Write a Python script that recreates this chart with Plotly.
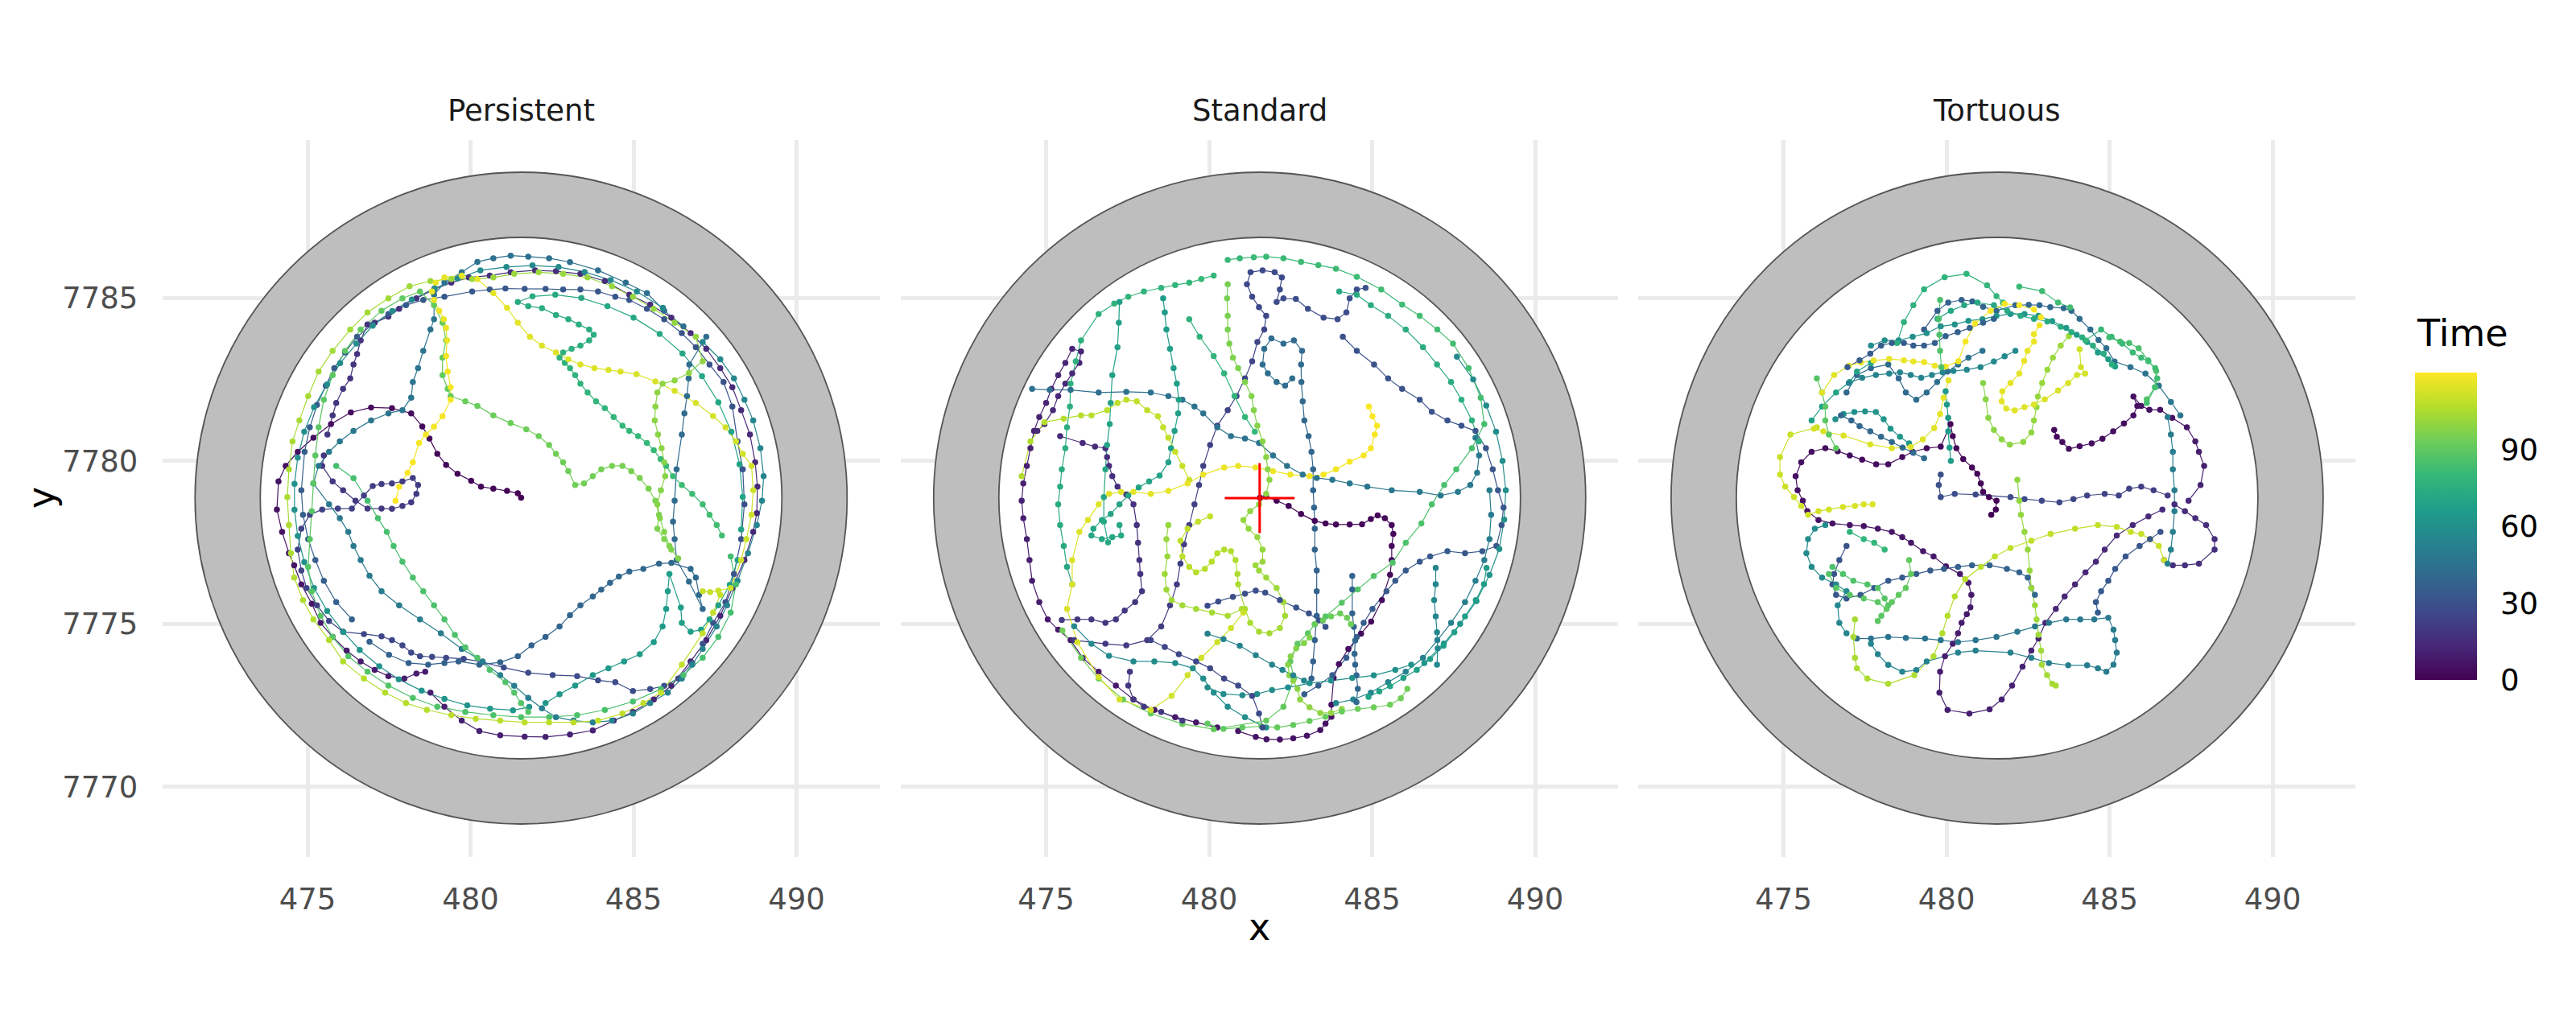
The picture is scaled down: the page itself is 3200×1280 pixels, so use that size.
import plotly.graph_objects as go
from plotly.colors import sample_colorscale

# ---------------- arena / axes values ----------------
ARENA_CENTER = [481.55, 7778.86]
ARENA_OUTER_R = 10.0
ARENA_INNER_R = 8.0
X_RANGE = [470.55, 492.55]
Y_RANGE = [7767.86, 7789.86]
X_TICKS = [475, 480, 485, 490]
Y_TICKS = [7770, 7775, 7780, 7785]
FACETS = ["Persistent", "Standard", "Tortuous"]
T_MAX = 120.3
CB_TICKS = [0, 30, 60, 90]

# ---------------- Persistent track pieces: [x, y, time] ----------------
P_1 = [[481.55,7778.87,0.0],[481.45,7779.01,0.3],[481.12,7779.08,0.6],[480.70,7779.15,0.9],[480.32,7779.21,1.2],[480.02,7779.39,1.5],[479.60,7779.61,1.8],[479.25,7779.88,2.1],[478.98,7780.22,2.4],[478.74,7780.69,2.7],[478.52,7781.06,3.0],[478.18,7781.46,3.3],[477.59,7781.62,3.6],[476.95,7781.64,3.9],[476.33,7781.49,4.2],[475.72,7781.13,4.5],[475.18,7780.71,4.8],[474.70,7780.28,5.1],[474.33,7779.85,5.4],[474.11,7779.37,5.7],[474.06,7778.51,6.0],[474.22,7777.82,6.3],[474.43,7777.17,6.6],[474.59,7776.80,6.9],[474.81,7776.21,7.2],[475.13,7775.62,7.5],[475.40,7775.03,7.8],[475.77,7774.60,8.1],[476.20,7774.18,8.4],[476.63,7773.85,8.7],[477.06,7773.59,9.0],[477.48,7773.40,9.3],[477.97,7773.32,9.6],[478.34,7773.48,9.9],[478.61,7773.53,10.1]]
P_2 = [[478.77,7772.89,10.3],[479.20,7772.46,10.5],[479.73,7772.03,10.7],[480.27,7771.71,10.8],[480.91,7771.58,11.0],[481.66,7771.54,11.2],[482.30,7771.53,11.3],[483.05,7771.61,11.5],[483.75,7771.73,11.7],[484.39,7772.03,11.8],[484.98,7772.30,12.0],[485.62,7772.68,12.2],[486.16,7773.10,12.3],[486.75,7773.85,12.5],[487.23,7774.50,12.7],[487.66,7775.25,12.8],[488.03,7776.10,13.0],[488.40,7776.96,13.2],[488.67,7777.82,13.3],[488.78,7778.40,13.5],[488.80,7779.21,13.7],[488.73,7779.96,13.8],[488.57,7780.81,14.0],[488.30,7781.56,14.2],[488.03,7782.26,14.3],[487.66,7782.85,14.5],[487.23,7783.44,14.7],[486.75,7783.92,14.8],[486.16,7784.40,15.0],[485.51,7784.80,15.2],[484.87,7785.10,15.3],[484.12,7785.52,15.5],[483.37,7785.74,15.7],[482.62,7785.82,15.8],[481.98,7785.85,16.0],[481.23,7785.79,16.2],[480.59,7785.69,16.3],[479.95,7785.63,16.5],[479.41,7785.47,16.7],[478.88,7785.26,16.8],[478.34,7784.99,17.0],[477.81,7784.67,17.2],[477.48,7784.43,17.3],[477.06,7784.24,17.5],[476.84,7784.19,17.7],[476.63,7783.70,17.8],[476.52,7783.28,18.0],[476.41,7782.96,18.2],[476.31,7782.53,18.3],[476.09,7782.21,18.5],[475.88,7781.78,18.7],[475.77,7781.40,18.8],[475.61,7780.81,19.0]]
P_3 = [[475.50,7780.17,19.2],[475.45,7779.85,19.4],[475.77,7779.37,19.6],[476.09,7779.10,19.9],[476.47,7778.78,20.1],[476.84,7778.54,20.3],[477.27,7778.54,20.5],[477.59,7778.53,20.7],[477.91,7778.62,20.9],[478.18,7778.73,21.1],[478.34,7778.99,21.3],[478.39,7779.26,21.5],[478.23,7779.48,21.8],[477.91,7779.37,22.0],[477.59,7779.31,22.2],[477.27,7779.29,22.4],[477.00,7779.23,22.6],[476.73,7778.94,22.8],[476.36,7778.54,23.0],[475.93,7778.54,23.2],[475.45,7778.51,23.4],[475.07,7778.35,23.7],[474.81,7777.92,23.9],[474.70,7777.28,24.1],[474.81,7776.64,24.3],[474.97,7776.10,24.5],[475.29,7775.57,24.7],[475.66,7775.09,24.9],[476.09,7774.76,25.1],[476.73,7774.69,25.3],[477.27,7774.62,25.6],[477.59,7774.50,25.8],[477.91,7774.34,26.0],[478.18,7774.12,26.2],[478.45,7774.01,26.4],[478.82,7773.99,26.6],[479.25,7773.96,26.8],[479.79,7773.93,27.0],[480.37,7773.83,27.2],[481.02,7773.66,27.5],[481.77,7773.50,27.7],[482.52,7773.43,27.9],[483.27,7773.40,28.1],[483.91,7773.27,28.3],[484.44,7773.21,28.5],[484.98,7772.94,28.7],[485.51,7773.00,28.9],[485.94,7773.10,29.1],[486.37,7773.32,29.4],[486.80,7773.80,29.6]]
P_4 = [[487.12,7774.39,29.8],[487.44,7775.03,30.0],[487.82,7775.67,30.1],[488.08,7776.53,30.3],[488.30,7777.60,30.4],[488.40,7778.67,30.6],[488.35,7779.74,30.8],[488.19,7780.60,30.9],[488.03,7781.67,31.1],[487.76,7782.42,31.2],[487.33,7782.96,31.4],[486.91,7783.49,31.6],[486.48,7783.92,31.7],[485.94,7784.35,31.9],[485.41,7784.67,32.0],[484.87,7784.94,32.2],[484.44,7785.04,32.4],[483.91,7785.20,32.5],[483.37,7785.26,32.7],[482.84,7785.26,32.8],[482.30,7785.28,33.0],[481.66,7785.28,33.2],[481.07,7785.29,33.3],[480.59,7785.26,33.5],[480.05,7785.20,33.6],[479.20,7785.04,33.8],[478.55,7784.94,34.0],[478.02,7784.78,34.1],[477.48,7784.51,34.3],[477.00,7784.19,34.4],[476.52,7783.81,34.6],[476.15,7783.33,34.8],[475.82,7782.85,34.9],[475.56,7782.31,35.1],[475.29,7781.72,35.2],[475.07,7781.03,35.4],[474.91,7780.28,35.6],[474.81,7779.10,35.7],[474.86,7778.35,35.9],[475.02,7777.60,36.0],[475.24,7776.96,36.2],[475.50,7776.32,36.4],[475.88,7775.67,36.5],[476.36,7775.14,36.7]]
P_5 = [[476.90,7774.45,36.9],[477.50,7774.05,37.0],[478.10,7773.80,37.2],[478.70,7773.75,37.3],[479.20,7773.80,37.5],[479.63,7773.85,37.6],[480.27,7773.75,37.8],[480.91,7773.82,38.0],[481.45,7774.01,38.1],[481.87,7774.34,38.3],[482.30,7774.60,38.4],[482.73,7774.92,38.6],[483.05,7775.27,38.8],[483.37,7775.57,38.9],[483.75,7775.84,39.1],[484.01,7776.05,39.2],[484.28,7776.26,39.4],[484.55,7776.45,39.6],[484.87,7776.61,39.7],[485.30,7776.69,39.9],[485.78,7776.85,40.0],[486.16,7776.87,40.2],[486.75,7776.69,40.4],[486.91,7776.42,40.5],[487.01,7775.89,40.7],[487.12,7775.46,40.8],[486.70,7776.30,41.0],[486.32,7776.96,41.2],[486.26,7777.60,41.3],[486.21,7778.14,41.5],[486.26,7778.78,41.6],[486.32,7779.74,41.8],[486.48,7780.81,42.0],[486.56,7781.46,42.1],[486.64,7781.99,42.3],[486.69,7782.53,42.4],[486.71,7782.96,42.6],[487.23,7783.81,42.8]]
P_6 = [[486.53,7784.13,43.0],[485.94,7784.61,43.2],[485.41,7785.15,43.4],[484.76,7785.47,43.6],[483.91,7785.85,43.8],[483.05,7786.10,44.0],[482.41,7786.22,44.2],[481.77,7786.27,44.4],[481.23,7786.30,44.6],[480.70,7786.22,44.8],[480.21,7786.11,45.0],[479.73,7785.79,45.2],[479.20,7785.47,45.4],[478.88,7785.10,45.6],[478.88,7784.35,45.8],[478.77,7784.03,46.0],[478.55,7783.38,46.2],[478.39,7782.85,46.4],[478.23,7782.42,46.6],[478.18,7781.94,46.8],[477.91,7781.56,47.0],[477.48,7781.46,47.2],[476.95,7781.24,47.4],[476.41,7780.92,47.6],[475.99,7780.60,47.8],[475.66,7780.28,48.0],[475.34,7779.85,48.2],[475.18,7779.31,48.4],[475.66,7778.67,48.6],[475.99,7778.24,48.8],[476.25,7777.82,49.0],[476.41,7777.39,49.2],[476.63,7776.96,49.4],[476.90,7776.48,49.6],[477.27,7776.00,49.8],[477.81,7775.57,50.0],[478.45,7775.14,50.2],[479.09,7774.71,50.4],[479.73,7774.23,50.6],[480.37,7773.85,50.8],[480.91,7773.43,51.0],[481.34,7773.10,51.2],[481.77,7772.73,51.4],[482.19,7772.41,51.6],[482.62,7772.14,51.8],[483.16,7772.03,52.0],[483.75,7771.98,52.2],[484.34,7772.03,52.4],[484.98,7772.25,52.6],[485.51,7772.57,52.8],[486.05,7772.89,53.0],[486.48,7773.32,53.2],[486.80,7773.75,53.4],[487.12,7774.23,53.6],[487.55,7774.92,53.8],[487.87,7775.57,54.0],[488.19,7776.32,54.2],[488.51,7777.17,54.4],[488.78,7778.03,54.6],[488.94,7778.78,54.8],[488.99,7779.53,55.0],[488.89,7780.39,55.2],[488.67,7781.24,55.4],[488.40,7781.88,55.6],[488.08,7782.53,55.8],[487.66,7783.12,56.0],[487.12,7783.65,56.2]]
P_7 = [[485.90,7784.70,56.4],[485.10,7785.20,56.6],[484.30,7785.55,56.8],[483.50,7785.80,57.0],[482.70,7785.95,57.2],[481.90,7786.00,57.4],[481.10,7785.95,57.6],[480.30,7785.85,57.8],[479.60,7785.60,58.0],[478.90,7785.30,58.2],[478.20,7784.95,58.4],[477.60,7784.60,58.6],[477.00,7784.15,58.8],[476.50,7783.60,59.0],[476.00,7783.00,59.2],[475.60,7782.35,59.4],[475.20,7781.65,59.6],[474.90,7780.90,59.8],[474.70,7780.10,60.0],[474.60,7779.30,60.2],[474.60,7778.50,60.4],[474.70,7777.70,60.6],[474.90,7776.90,60.8],[475.20,7776.10,61.0],[475.60,7775.40,61.2],[476.10,7774.75,61.4],[476.60,7774.20,61.6],[477.20,7773.70,61.8],[477.80,7773.30,62.0],[478.50,7772.95,62.2],[479.20,7772.70,62.4],[479.90,7772.50,62.6],[480.60,7772.40,62.8],[481.30,7772.35,63.0],[481.80,7772.45,63.2]]
P_8 = [[482.30,7772.57,63.4],[482.73,7772.84,63.7],[483.21,7773.11,64.0],[483.75,7773.43,64.3],[484.23,7773.64,64.6],[484.71,7773.85,64.9],[485.19,7774.07,65.2],[485.62,7774.44,65.5],[485.89,7774.92,65.8],[486.00,7775.46,66.1],[486.05,7776.00,66.4],[486.10,7776.53,66.7],[486.45,7775.50,67.0],[486.48,7775.03,67.3],[486.75,7774.76,67.6],[487.07,7774.82,67.9],[487.33,7775.14,68.2],[487.60,7775.57,68.5],[487.95,7776.20,68.8],[488.19,7776.96,69.1]]
P_9 = [[488.30,7777.90,69.4],[488.35,7778.90,69.7],[488.25,7779.90,70.0],[488.00,7780.90,70.3],[487.60,7781.80,70.6],[487.10,7782.60,70.9],[486.50,7783.30,71.2],[485.80,7783.90,71.5],[485.00,7784.40,71.8],[484.20,7784.75,72.1],[483.40,7785.00,72.4],[482.60,7785.10,72.7],[481.90,7785.05,73.0],[481.45,7784.88,73.3],[481.77,7784.75,73.6],[482.19,7784.69,73.9],[482.62,7784.48,74.2],[483.00,7784.35,74.5],[483.32,7784.19,74.8],[483.64,7784.03,75.1],[483.78,7783.87,75.4],[483.64,7783.70,75.7],[483.37,7783.54,76.0],[483.10,7783.44,76.3],[482.84,7783.33,76.6],[482.73,7783.17,76.9],[482.89,7783.01,77.2],[483.05,7782.85,77.5],[483.21,7782.63,77.8],[483.37,7782.37,78.1],[483.59,7782.10,78.4],[483.85,7781.83,78.7],[484.12,7781.62,79.0],[484.39,7781.35,79.3],[484.66,7781.08,79.6],[484.87,7780.92,79.9],[485.14,7780.76,80.2],[485.41,7780.55,80.5],[485.62,7780.33,80.8],[485.83,7780.06,81.1],[486.00,7779.85,81.4],[486.21,7779.53,81.7],[486.48,7779.26,82.0],[486.80,7778.99,82.3],[487.12,7778.67,82.6],[487.33,7778.35,82.9],[487.55,7778.03,83.2],[487.71,7777.71,83.5]]
P_10 = [[487.98,7777.07,83.8],[488.14,7776.21,84.0],[487.98,7775.35,84.2],[487.60,7774.60,84.4],[487.12,7773.96,84.6],[486.53,7773.43,84.8],[485.84,7773.00,85.0],[484.98,7772.62,85.2],[484.12,7772.36,85.4],[483.27,7772.20,85.6],[482.41,7772.14,85.8],[481.55,7772.14,86.0],[480.70,7772.20,86.2],[479.84,7772.30,86.4],[478.98,7772.46,86.6],[478.23,7772.73,86.8],[477.48,7773.11,87.0],[476.84,7773.53,87.2],[476.25,7774.01,87.4],[475.77,7774.60,87.6],[475.40,7775.25,87.8],[475.13,7776.00,88.0],[475.02,7776.75,88.2],[475.07,7777.60,88.4],[475.13,7778.46,88.6],[475.18,7779.31,88.8],[475.24,7780.17,89.0],[475.34,7781.03,89.2],[475.50,7781.88,89.4],[475.77,7782.63,89.6],[476.15,7783.38,89.8],[476.63,7784.03,90.0],[477.27,7784.61,90.2],[477.91,7784.99,90.4],[478.45,7785.20,90.6],[478.88,7784.78,90.8],[479.14,7784.24,91.0],[479.25,7783.70,91.2],[479.14,7783.17,91.4],[479.14,7782.63,91.6],[479.30,7782.21,91.8],[479.39,7781.99,92.0],[479.84,7781.83,92.2],[480.21,7781.69,92.4],[480.70,7781.40,92.6],[481.23,7781.16,92.8],[481.71,7780.97,93.0],[482.09,7780.76,93.2],[482.41,7780.49,93.4],[482.62,7780.22,93.6],[482.84,7779.96,93.8],[483.00,7779.69,94.0],[483.21,7779.26,94.2],[483.48,7779.31,94.4],[483.75,7779.53,94.6],[484.01,7779.74,94.8],[484.34,7779.85,95.0],[484.66,7779.85,95.2],[484.93,7779.69,95.4],[485.19,7779.48,95.6],[485.46,7779.15,95.8],[485.67,7778.78,96.0],[485.78,7778.35,96.2],[485.73,7777.92,96.4],[485.94,7777.60,96.6],[486.16,7777.28,96.8],[486.37,7777.01,97.0]]
P_10b = [[475.88,7779.85,84.0],[476.41,7779.47,84.2],[476.84,7778.78,84.4],[477.16,7778.24,84.6],[477.43,7777.82,84.8],[477.64,7777.39,85.0],[477.91,7776.91,85.2],[478.23,7776.42,85.4],[478.55,7776.00,85.6],[478.88,7775.57,85.8],[479.20,7775.14,86.0],[479.52,7774.66,86.2],[479.84,7774.28,86.4],[480.21,7773.96,86.6],[480.59,7773.59,86.8],[481.07,7773.21,87.0],[481.34,7772.89,87.2],[481.55,7772.57,87.4],[481.77,7772.30,87.6]]
P_11 = [[486.10,7777.39,97.2],[485.94,7777.82,97.4],[485.81,7778.24,97.6],[485.73,7778.67,97.8],[485.84,7779.10,98.0],[485.97,7779.53,98.2],[485.94,7779.96,98.4],[485.86,7780.39,98.6],[485.75,7780.81,98.8],[485.65,7781.24,99.0],[485.67,7781.67,99.2],[485.73,7782.10,99.4],[485.89,7782.37,99.6],[486.26,7782.47,99.8],[486.70,7782.70,100.0],[487.12,7783.06,100.2],[486.91,7783.81,100.4],[486.26,7784.24,100.6],[485.62,7784.67,100.8],[484.98,7785.04,101.0],[484.34,7785.36,101.2],[483.59,7785.63,101.4],[482.84,7785.74,101.6],[482.09,7785.79,101.8],[481.34,7785.74,102.0],[480.70,7785.63,102.2],[480.05,7785.58,102.4],[479.41,7785.58,102.6],[478.77,7785.52,102.8],[478.13,7785.36,103.0],[477.48,7784.99,103.2],[476.84,7784.56,103.4],[476.31,7784.03,103.6],[475.77,7783.38,103.8],[475.34,7782.74,104.0],[475.02,7781.99,104.2],[474.75,7781.24,104.4],[474.54,7780.60,104.6],[474.43,7779.74,104.8],[474.38,7778.89,105.0],[474.43,7778.03,105.2],[474.49,7777.17,105.4],[474.59,7776.42,105.6],[474.86,7775.73,105.8],[475.18,7775.14,106.0],[475.66,7774.50,106.2],[476.09,7773.85,106.4],[476.73,7773.32,106.6],[477.38,7772.89,106.8],[478.02,7772.57,107.0],[478.66,7772.36,107.2],[479.41,7772.20,107.4],[480.16,7772.09,107.6],[480.91,7772.03,107.8],[481.66,7771.98,108.0],[482.41,7771.98,108.2],[483.16,7771.98,108.4],[483.91,7772.03,108.6],[484.66,7772.25,108.8],[485.30,7772.57,109.0],[485.84,7772.89,109.2],[486.48,7773.75,109.4],[487.12,7774.71,109.6],[487.44,7775.35,109.8],[487.66,7775.89,110.0]]
P_12 = [[487.12,7776.00,110.2],[487.35,7775.98,110.4],[487.60,7776.02,110.6],[487.98,7776.10,110.8],[488.30,7776.96,111.0],[488.46,7777.60,111.2],[488.62,7778.35,111.4],[488.67,7779.10,111.6],[488.62,7779.85,111.8],[488.35,7780.22,112.0],[488.14,7780.60,112.2],[487.82,7781.03,112.4],[487.44,7781.38,112.6],[486.91,7781.78,112.8],[486.26,7782.15,113.0],[485.67,7782.44,113.2],[485.09,7782.66,113.4],[484.60,7782.74,113.6],[484.23,7782.79,113.8],[483.80,7782.85,114.0],[483.37,7782.96,114.2],[483.00,7783.12,114.4],[482.62,7783.33,114.6],[482.19,7783.54,114.8],[481.82,7783.81,115.0],[481.45,7784.24,115.2],[481.12,7784.70,115.4],[480.70,7785.15,115.6],[480.21,7785.58,115.8],[479.73,7785.69,116.0],[479.20,7785.63,116.2],[478.93,7785.47,116.4],[478.82,7785.20,116.6],[478.88,7784.94,116.8],[479.04,7784.61,117.0],[479.18,7784.35,117.2],[479.25,7784.08,117.4],[479.28,7783.70,117.6],[479.25,7783.22,117.8],[479.30,7782.74,118.0],[479.39,7782.26,118.2],[479.39,7781.88,118.4],[479.14,7781.37,118.6],[478.88,7781.05,118.8],[478.63,7780.81,119.0],[478.42,7780.55,119.2],[478.23,7779.96,119.4],[478.07,7779.64,119.6],[477.81,7779.21,119.8],[477.70,7778.78,120.0]]
PERSISTENT = [P_1, P_2, P_3, P_4, P_5, P_6, P_7, P_8, P_9, P_10, P_10b, P_11, P_12]

# ---------------- Standard track pieces ----------------
S_1 = [[481.56,7778.87,0.0],[481.75,7778.91,0.2],[482.07,7778.78,0.4],[482.44,7778.62,0.6],[482.82,7778.37,0.8],[483.24,7778.16,1.0],[483.57,7778.08,1.2],[483.89,7778.05,1.4],[484.31,7778.05,1.6],[484.69,7778.06,1.8],[484.96,7778.22,2.0],[485.17,7778.33,2.2],[485.39,7778.24,2.4],[485.60,7778.03,2.6],[485.65,7777.76,2.8],[485.60,7777.39,3.0],[485.60,7776.96,3.2],[485.55,7776.51,3.4],[485.30,7775.73,3.6],[484.97,7775.07,3.9],[484.66,7774.70,4.2],[484.27,7774.23,4.5],[483.98,7773.77,4.8],[483.82,7773.34,5.1],[483.75,7772.52,5.4],[483.75,7772.15,5.6],[483.57,7771.94,5.8],[483.41,7771.74,6.0],[483.00,7771.57,6.2],[482.58,7771.49,6.4],[482.17,7771.45,6.6],[481.76,7771.46,6.8],[481.43,7771.53,7.0],[480.89,7771.71,7.2]]
S_2 = [[480.25,7771.82,7.4],[479.60,7771.98,7.6],[478.96,7772.14,7.8],[478.32,7772.36,8.0],[477.68,7772.68,8.2],[477.14,7773.11,8.4],[476.61,7773.53,8.6],[476.12,7773.96,8.8],[475.75,7774.50,9.0],[475.37,7774.82,9.2],[475.05,7775.14,9.4],[474.79,7775.67,9.6],[474.57,7776.32,9.8],[474.49,7776.96,10.0],[474.41,7777.60,10.2],[474.30,7778.24,10.4],[474.25,7778.78,10.6],[474.30,7779.31,10.8],[474.41,7779.85,11.0],[474.52,7780.39,11.2],[474.63,7780.92,11.4],[474.79,7781.35,11.6],[475.00,7781.78,11.8],[475.16,7782.21,12.0],[475.37,7782.63,12.2],[475.59,7783.01,12.4],[475.80,7783.44,12.6],[476.07,7783.36,12.8],[476.02,7783.01,13.0],[475.80,7782.69,13.2],[475.59,7782.37,13.4],[475.37,7781.99,13.6],[475.21,7781.56,13.8],[474.95,7781.13,14.0],[474.73,7780.92,14.2]]
S_3 = [[475.43,7780.76,14.4],[476.12,7780.55,14.7],[476.50,7780.44,15.0],[476.82,7780.39,15.3],[476.87,7780.12,15.6],[476.93,7779.85,15.9],[477.03,7779.53,16.2],[477.19,7779.21,16.5],[477.46,7778.97,16.8],[477.68,7778.67,17.1],[477.78,7778.03,17.4],[477.82,7777.49,17.7],[477.86,7776.96,18.0],[477.89,7776.53,18.3],[477.94,7776.00,18.6],[477.73,7775.67,18.9],[477.41,7775.41,19.2],[477.14,7775.14,19.5],[476.82,7775.03,19.8],[476.39,7775.14,20.1],[475.96,7775.14,20.4],[475.48,7775.12,20.7]]
S_4 = [[475.86,7774.50,21.0],[476.82,7774.39,21.2],[477.46,7774.34,21.5],[478.10,7774.50,21.7],[478.53,7774.92,21.9],[478.80,7775.57,22.2],[479.01,7776.21,22.4],[479.12,7776.85,22.6],[479.23,7777.44,22.8],[479.39,7778.03,23.1],[479.55,7778.67,23.3],[479.69,7779.26,23.5],[479.82,7779.85,23.8],[480.03,7780.49,24.0],[480.25,7781.08,24.2],[480.57,7781.56,24.5],[480.84,7781.99,24.7],[481.10,7782.53,24.9],[481.32,7783.06,25.2],[481.48,7783.65,25.4],[481.69,7784.03,25.6],[481.75,7784.45,25.8],[481.53,7784.72,26.1],[481.32,7785.04,26.3],[481.16,7785.42,26.5],[481.27,7785.79,26.8],[481.64,7785.85,27.0],[482.01,7785.79,27.2],[482.23,7785.63,27.5],[482.17,7785.26,27.7],[482.07,7784.88,27.9],[482.28,7784.99,28.2],[482.66,7784.97,28.4],[483.03,7784.67,28.6],[483.51,7784.40,28.8],[483.94,7784.35,29.1],[484.21,7784.56,29.3],[484.31,7784.99,29.5],[484.53,7785.26,29.8],[484.80,7785.31,30.0]]
S_5 = [[484.10,7783.81,30.2],[484.53,7783.38,30.4],[485.06,7782.96,30.6],[485.49,7782.53,30.8],[485.92,7782.21,31.0],[486.46,7781.88,31.1],[486.83,7781.51,31.3],[487.31,7781.24,31.5],[487.74,7781.08,31.7],[488.17,7780.92,31.9],[488.49,7780.39,32.1],[488.70,7779.74,32.3],[488.86,7779.10,32.5],[489.03,7778.57,32.7],[488.97,7778.03,32.9],[488.81,7777.39,33.0],[488.38,7777.23,33.2],[487.85,7777.17,33.4],[487.31,7777.23,33.6],[486.78,7777.07,33.8],[486.46,7776.91,34.0],[486.03,7776.64,34.2],[485.71,7776.32,34.4],[485.44,7776.00,34.6],[485.01,7775.46,34.8],[484.74,7775.03,35.0],[484.53,7774.60,35.2],[484.21,7773.96,35.4],[483.78,7773.43,35.6],[483.35,7773.11,35.8],[482.92,7772.84,36.0]]
S_6 = [[483.14,7773.32,36.2],[483.19,7773.85,36.5],[483.24,7774.50,36.8],[483.30,7775.25,37.1],[483.30,7776.00,37.4],[483.30,7776.64,37.7],[483.24,7777.28,38.0],[483.24,7777.92,38.3],[483.22,7778.57,38.6],[483.19,7779.10,38.9],[483.19,7779.74,39.2],[483.14,7780.28,39.5],[483.05,7780.76,39.8],[482.92,7781.24,40.1],[482.87,7781.83,40.4],[482.83,7782.42,40.7],[482.82,7782.96,41.0],[482.85,7783.38,41.3],[482.60,7783.70,41.6],[482.28,7783.60,41.9],[481.91,7783.76,42.2],[481.69,7783.44,42.5],[481.64,7782.96,42.8],[481.80,7782.69,43.1],[482.07,7782.42,43.4],[482.33,7782.31,43.7],[482.55,7782.53,44.0]]
S_7 = [[474.57,7782.21,44.0],[475.11,7782.18,44.2],[475.75,7782.18,44.4],[476.61,7782.10,44.6],[477.46,7782.12,44.8],[478.21,7782.10,45.0],[478.75,7781.99,45.2],[479.18,7781.88,45.4],[479.55,7781.67,45.6],[479.82,7781.46,45.8],[480.25,7781.03,46.0],[480.67,7780.76,46.2],[481.10,7780.69,46.4],[481.53,7780.55,46.6],[481.96,7780.17,46.8],[482.39,7779.85,47.0],[482.87,7779.58,47.2],[483.30,7779.48,47.4],[483.78,7779.42,47.6],[484.31,7779.31,47.8],[484.85,7779.21,48.0],[485.60,7779.10,48.2],[486.46,7779.05,48.4],[487.10,7778.94,48.6],[487.63,7779.05,48.8],[488.01,7779.26,49.0],[488.22,7779.64,49.2],[488.28,7780.17,49.4],[488.17,7780.71,49.6]]
S_8 = [[488.60,7779.10,50.0],[488.65,7778.35,50.4],[488.60,7777.60,50.8],[488.44,7776.96,51.2],[488.17,7776.32,51.6],[487.85,7775.67,52.0],[487.42,7775.03,52.4],[487.00,7774.50,52.8],[486.56,7773.96,53.2],[486.03,7773.53,53.6],[485.49,7773.21,54.0],[484.96,7772.89,54.4],[484.42,7772.68,54.8],[483.89,7772.57,55.2]]
S_9 = [[486.95,7776.72,55.4],[486.95,7776.22,55.6],[486.90,7775.73,55.8],[486.95,7775.23,56.0],[486.99,7774.74,56.2],[487.01,7774.25,56.4],[486.99,7773.75,56.6]]
S_10 = [[487.60,7783.20,57.0],[488.10,7782.50,57.5],[488.50,7781.70,58.0],[488.80,7780.90,58.5],[489.00,7780.00,59.0],[489.10,7779.10,59.5],[489.05,7778.20,60.0],[488.90,7777.30,60.5],[488.60,7776.50,61.0],[488.20,7775.70,61.5],[487.70,7775.00,62.0],[487.20,7774.40,62.5],[486.60,7773.80,63.0]]
S_11 = [[478.59,7784.99,66.0],[478.64,7784.56,66.3],[478.69,7784.03,66.5],[478.80,7783.44,66.8],[478.91,7782.85,67.0],[479.01,7782.37,67.3],[479.07,7781.88,67.5],[479.05,7781.46,67.8],[478.94,7780.92,68.0],[478.83,7780.39,68.3],[478.75,7779.96,68.5],[478.48,7779.55,68.8],[478.16,7779.37,69.0],[477.84,7779.19,69.3],[477.52,7778.94,69.5],[477.25,7778.67,69.8],[476.98,7778.37,70.0],[476.71,7778.19,70.3],[476.45,7777.92,70.5],[476.39,7777.71,70.8],[476.71,7777.60,71.0],[477.03,7777.66,71.3],[477.30,7777.71,71.5],[477.25,7778.03,71.8]]
S_12 = [[477.25,7784.88,68.0],[477.23,7784.24,68.4],[477.19,7783.49,68.8],[477.03,7782.63,69.2],[476.98,7781.78,69.6],[476.95,7781.13,70.0],[476.87,7780.49,70.4],[476.82,7779.74,70.8],[476.77,7778.89,71.2],[476.77,7778.14,71.6],[476.90,7777.50,72.0]]
S_13 = [[475.80,7776.21,72.0],[475.64,7776.75,72.4],[475.54,7777.39,72.8],[475.43,7778.03,73.2],[475.37,7778.67,73.6],[475.43,7779.21,74.0],[475.48,7779.74,74.4],[475.59,7780.39,74.8],[475.64,7781.03,75.2],[475.73,7781.67,75.6],[475.75,7782.37,76.0],[475.91,7783.06,76.4],[476.07,7783.70,76.8],[476.61,7784.51,77.2],[477.09,7784.83,77.6],[477.52,7785.04,78.0],[478.00,7785.20,78.4],[478.53,7785.31,78.8],[478.96,7785.40,79.2],[479.39,7785.47,79.6],[479.76,7785.58,80.0],[480.14,7785.69,80.4]]
S_14 = [[479.39,7784.35,77.0],[479.71,7783.81,77.5],[480.14,7783.22,78.0],[480.46,7782.69,78.5],[480.78,7781.99,79.0],[481.10,7781.35,79.5],[481.40,7780.90,80.0]]
S_15 = [[480.57,7786.17,80.8],[480.94,7786.22,81.0],[481.37,7786.25,81.2],[481.75,7786.27,81.4],[482.28,7786.22,81.6],[482.82,7786.11,81.8],[483.35,7786.01,82.0],[483.89,7785.90,82.2],[484.53,7785.65,82.4],[485.28,7785.26,82.6],[485.92,7784.80,82.8],[486.46,7784.45,83.0],[487.00,7784.03,83.2],[487.48,7783.60,83.4],[487.96,7782.85,83.6],[488.33,7781.94,83.8],[488.44,7781.13,84.0],[488.06,7780.39,84.4],[487.58,7779.74,84.8],[487.21,7779.26,85.2],[486.83,7778.67,85.6],[486.51,7778.08,86.0],[486.03,7777.49,86.4],[485.63,7776.88,86.8],[485.05,7776.47,87.2],[484.56,7776.06,87.6],[484.07,7775.65,88.0],[483.57,7775.23,88.4],[483.24,7774.99,88.8],[483.03,7774.71,89.2],[482.71,7774.39,89.6],[482.49,7773.85,90.0],[482.60,7773.32,90.4],[482.28,7772.46,90.8],[481.75,7772.03,91.2],[480.14,7771.77,91.6],[479.18,7771.93,92.0],[478.21,7772.25,92.4],[477.36,7772.68,92.8],[476.61,7773.32,93.2],[476.07,7773.96,93.6],[475.50,7774.80,94.0]]
S_16 = [[480.57,7785.42,95.0],[480.55,7784.99,95.3],[480.57,7784.45,95.6],[480.57,7784.03,95.9],[480.62,7783.60,96.2],[480.73,7783.17,96.5],[480.89,7782.85,96.8],[481.10,7782.42,97.1],[481.30,7781.99,97.4],[481.37,7781.56,97.7],[481.48,7781.08,98.0],[481.64,7780.60,98.3],[481.75,7780.12,98.6],[481.80,7779.74,98.9],[481.85,7779.42,99.2],[481.75,7778.99,99.5],[481.53,7778.67,99.8],[481.26,7778.46,100.1],[481.05,7778.19,100.4],[481.21,7777.92,100.7],[481.48,7777.66,101.0],[481.64,7777.28,101.3],[481.64,7776.91,101.6],[481.42,7776.80,101.9],[481.53,7776.64,102.2],[481.75,7776.42,102.5],[482.07,7776.10,102.8],[482.28,7775.67,103.1],[482.33,7775.25,103.4],[482.17,7774.87,103.7],[481.85,7774.71,104.0],[481.53,7774.76,104.3],[481.26,7775.03,104.6],[481.10,7775.46,104.9],[480.89,7776.21,105.2],[480.87,7776.53,105.5],[480.81,7776.96,105.8],[480.67,7777.23,106.1],[480.46,7777.28,106.4],[480.25,7777.17,106.7],[480.08,7776.91,107.0],[479.87,7776.69,107.3],[479.60,7776.58,107.6],[479.39,7776.75,107.9],[479.18,7777.07,108.2],[479.12,7777.55,108.5],[479.34,7777.92,108.8],[479.66,7778.14,109.1],[480.03,7778.30,109.4]]
S_17 = [[478.75,7778.03,101.0],[478.69,7777.60,101.4],[478.72,7777.07,101.8],[478.64,7776.53,102.2],[478.69,7776.05,102.6],[478.85,7775.73,103.0],[479.18,7775.57,103.4],[479.60,7775.46,103.8],[480.09,7775.35,104.2],[480.57,7775.25,104.6],[481.00,7775.46,105.0]]
S_18 = [[474.25,7779.53,106.0],[474.52,7780.60,106.3],[474.95,7781.19,106.6],[475.54,7781.30,106.9],[476.07,7781.40,107.2],[476.39,7781.40,107.5],[476.87,7781.56,107.8],[477.19,7781.78,108.1],[477.46,7781.88,108.4],[477.78,7781.83,108.7],[478.10,7781.56,109.0],[478.43,7781.37,109.3],[478.59,7781.03,109.6],[478.75,7780.71,109.9],[478.96,7780.28,110.2],[479.18,7779.85,110.5],[479.39,7779.42,110.8]]
S_19 = [[481.05,7775.35,111.0],[480.67,7774.87,111.3],[480.25,7774.44,111.5],[479.76,7773.96,111.8],[479.34,7773.43,112.0],[478.85,7772.79,112.3],[478.21,7772.36,112.5],[477.25,7772.68,112.8],[476.61,7773.37,113.0],[475.96,7774.44,113.3],[475.64,7775.46,113.5],[475.80,7776.21,113.8],[475.80,7776.96,114.0],[476.02,7777.82,114.3],[476.28,7778.19,114.5],[476.61,7778.67,114.8],[476.93,7778.99,115.0],[477.30,7779.05,115.3],[477.68,7779.05,115.5],[478.21,7778.99,115.8],[478.75,7779.08,116.0],[479.34,7779.31,116.3],[479.82,7779.58,116.5],[480.46,7779.80,116.8],[480.89,7779.85,117.0],[481.42,7779.80,117.3],[481.96,7779.69,117.5],[482.49,7779.58,117.8],[483.08,7779.53,118.0],[483.51,7779.58,118.3],[483.89,7779.74,118.5],[484.31,7779.98,118.8],[484.74,7780.17,119.0],[484.96,7780.39,119.3],[485.08,7780.81,119.5],[485.15,7781.08,119.7],[485.01,7781.37,119.9],[484.90,7781.67,120.0]]
S_20 = [[475.86,7774.93,57.0],[476.39,7774.39,57.3],[476.93,7774.02,57.6],[477.68,7773.85,57.9],[478.32,7773.85,58.2],[478.96,7773.80,58.5],[479.50,7773.64,58.8],[479.82,7773.32,59.1],[480.14,7772.89,59.4],[480.57,7772.46,59.7],[481.10,7772.14,60.0],[481.75,7771.82,60.3]]
S_21 = [[488.51,7776.72,66.0],[488.43,7776.22,66.3],[488.18,7775.73,66.6],[487.85,7775.23,66.9],[487.52,7774.74,67.2],[487.19,7774.33,67.5],[486.78,7773.92,67.8],[486.37,7773.59,68.1],[485.96,7773.34,68.4],[485.55,7773.09,68.7],[485.22,7772.93,69.0],[484.89,7772.76,69.3]]
S_22 = [[483.08,7774.58,97.0],[482.91,7774.41,97.3],[482.67,7774.25,97.6],[482.50,7774.00,97.9],[482.42,7773.75,98.2],[482.46,7773.42,98.5],[482.58,7773.26,98.8],[482.71,7773.01,99.1],[482.79,7772.68,99.4],[483.08,7772.44,99.7],[483.41,7772.27,100.0],[483.74,7772.27,100.3],[484.07,7772.39,100.6]]
S_23 = [[483.99,7785.20,73.0],[484.53,7785.10,73.3],[484.96,7784.78,73.6],[485.49,7784.45,73.9],[486.03,7784.03,74.2],[486.56,7783.49,74.5],[486.99,7782.96,74.8],[487.42,7782.42,75.1],[487.74,7781.88,75.4],[488.06,7781.24,75.7],[488.28,7780.60,76.0]]
S_24 = [[479.95,7775.56,29.0],[480.28,7775.69,29.2],[480.73,7775.83,29.4],[481.10,7775.93,29.6],[481.43,7776.02,29.8],[481.72,7775.96,30.0],[482.17,7775.73,30.2],[482.67,7775.50,30.4],[483.06,7775.32,30.6],[483.37,7775.11,30.8],[483.57,7774.91,31.0]]
S_25 = [[484.39,7776.47,38.0],[484.39,7776.06,38.3],[484.39,7775.32,38.6],[484.44,7774.91,38.9],[484.48,7774.49,39.2],[484.46,7774.08,39.5],[484.48,7773.75,39.8],[484.52,7773.42,40.1],[484.56,7773.01,40.4],[484.52,7772.60,40.7]]
S_26 = [[483.24,7774.99,92.0],[483.49,7775.11,92.3],[483.74,7775.23,92.6],[484.02,7775.32,92.9],[484.23,7775.19,93.2],[484.35,7774.99,93.5]]
S_27 = [[479.95,7771.94,90.0],[480.44,7771.78,90.3],[481.02,7771.82,90.6],[481.60,7771.86,90.9],[482.09,7771.82,91.2],[482.58,7771.90,91.5],[483.08,7772.02,91.8],[483.57,7772.15,92.1],[484.07,7772.31,92.4],[484.56,7772.39,92.7],[485.05,7772.44,93.0],[485.55,7772.52,93.3],[485.88,7772.72,93.6],[486.08,7773.01,93.9]]
S_28 = [[479.95,7774.70,53.0],[480.44,7774.53,53.3],[480.94,7774.33,53.6],[481.43,7774.04,53.9],[481.93,7773.75,54.2],[482.25,7773.59,54.5],[482.58,7773.42,54.8],[482.91,7773.26,55.1]]
S_29 = [[479.95,7773.05,58.0],[480.44,7772.85,58.3],[481.02,7772.81,58.6],[481.47,7772.85,58.9],[481.93,7772.97,59.2],[482.42,7773.05,59.5],[483.08,7773.18,59.8],[483.74,7773.26,60.1],[484.39,7773.34,60.4],[485.05,7773.42,60.7],[485.71,7773.59,61.0],[486.20,7773.75,61.3]]
S_30 = [[478.21,7774.50,25.0],[478.64,7774.29,25.3],[479.07,7774.07,25.6],[479.60,7773.85,25.9],[480.03,7773.64,26.2],[480.46,7773.32,26.5],[480.89,7773.11,26.8],[481.32,7772.79,27.1],[481.53,7772.25,27.4],[481.64,7771.82,27.7]]
S_31 = [[477.57,7773.53,19.0],[477.52,7773.11,19.3],[477.68,7772.68,19.6],[478.00,7772.46,19.9],[478.53,7772.30,20.2],[479.18,7772.03,20.5]]
STANDARD = [S_1, S_2, S_3, S_4, S_5, S_6, S_7, S_8, S_9, S_10, S_11, S_12, S_13, S_14, S_15, S_16, S_17, S_18,
            S_19, S_20, S_21, S_22, S_23, S_24, S_25, S_26, S_27, S_28, S_29, S_30, S_31]

# ---------------- Tortuous track pieces ----------------
T_1 = [[481.37,7778.35,0.0],[481.51,7778.51,0.2],[481.53,7778.78,0.4],[481.30,7778.89,0.6],[481.12,7779.05,0.8],[481.05,7779.31,1.0],[480.94,7779.61,1.3],[480.78,7779.80,1.5],[480.51,7780.06,1.7],[480.30,7780.39,1.9],[480.19,7780.76,2.1],[480.12,7781.13,2.3],[479.82,7780.44,2.5],[479.39,7780.39,2.7],[478.96,7780.28,2.9],[478.64,7780.12,3.1],[478.21,7779.90,3.4],[477.84,7779.90,3.6],[477.41,7780.04,3.8],[477.03,7780.17,4.0],[476.66,7780.30,4.2],[476.28,7780.39,4.4],[475.86,7780.28,4.6],[475.54,7779.96,4.8],[475.37,7779.53,5.0],[475.43,7779.10,5.3],[475.59,7778.78,5.5],[475.73,7778.46,5.7],[476.07,7778.19,5.9],[476.50,7778.08,6.1],[477.03,7778.03,6.3],[477.46,7778.00,6.5],[477.89,7777.92,6.7],[478.32,7777.82,6.9],[478.64,7777.66,7.1],[478.91,7777.49,7.3],[479.28,7777.23,7.6],[479.60,7777.07,7.8],[479.98,7776.77,8.0],[480.41,7776.53,8.2],[480.67,7776.26,8.4],[480.76,7775.89,8.6],[480.73,7775.51,8.8],[480.62,7775.30,9.0],[480.46,7775.03,9.2],[480.35,7774.71,9.4],[480.19,7774.39,9.7],[479.95,7774.01,9.9],[479.80,7773.53,10.1],[479.78,7772.89,10.3],[480.03,7772.36,10.5],[480.70,7772.25,10.7],[481.32,7772.38,10.9],[481.69,7772.68,11.1],[482.01,7773.11,11.3],[482.33,7773.69,11.5],[482.60,7774.18,11.8],[482.82,7774.55,12.0],[483.03,7775.03,12.2],[483.35,7775.46,12.4],[483.62,7775.84,12.6],[483.94,7776.21,12.8],[484.26,7776.58,13.0],[484.58,7776.91,13.2],[484.85,7777.28,13.4],[485.22,7777.71,13.6],[485.71,7778.03,13.8],[486.19,7778.30,14.0],[486.62,7778.51,14.2]]
T_2 = [[486.99,7778.67,14.5],[487.31,7778.46,14.8],[487.63,7778.24,15.1],[487.96,7778.03,15.4],[488.22,7777.60,15.7],[488.22,7777.28,16.0],[487.74,7776.85,16.3],[487.31,7776.80,16.6],[486.94,7776.80,16.9],[486.67,7776.96,17.2]]
T_3 = [[483.30,7780.95,3.0],[483.38,7780.74,3.2],[483.55,7780.58,3.4],[483.75,7780.37,3.6],[484.08,7780.45,3.8],[484.45,7780.54,4.0],[484.78,7780.68,4.2],[485.11,7780.91,4.4],[485.44,7781.15,4.6],[485.73,7781.40,4.8],[485.85,7781.69,5.0],[485.73,7781.98,5.2],[485.97,7781.69,5.4],[486.22,7781.57,5.6],[486.55,7781.57,5.8],[486.92,7781.32,6.0],[487.37,7781.03,8.0],[487.63,7780.60,9.0],[487.74,7780.28,10.0],[487.90,7779.85,11.0],[487.79,7779.26,12.0],[487.42,7778.78,13.0]]
T_4 = [[486.78,7778.94,22.0],[486.35,7779.10,22.5],[485.97,7779.21,23.0],[485.60,7779.15,23.5],[485.28,7778.94,24.0],[484.85,7778.99,24.5],[484.31,7778.94,25.0],[483.89,7778.83,25.5],[483.46,7778.73,26.0],[482.92,7778.78,26.5],[482.39,7778.83,27.0],[481.96,7778.89,27.5],[480.89,7778.97,28.0],[480.25,7778.99,28.5],[479.82,7778.89,29.0],[479.76,7779.26,29.5],[479.82,7779.58,30.0]]
T_5 = [[476.93,7777.39,30.0],[476.71,7776.96,30.5],[476.55,7776.53,31.0],[476.50,7776.21,31.5],[476.61,7775.89,32.0],[476.93,7775.78,32.5],[477.36,7775.89,33.0],[477.78,7776.10,33.5],[478.21,7776.32,34.0],[478.64,7776.42,34.5],[479.07,7776.53,35.0],[479.50,7776.64,35.5],[479.92,7776.69,36.0],[480.35,7776.75,36.5],[480.78,7776.80,37.0],[481.32,7776.80,37.5],[481.85,7776.69,38.0],[482.23,7776.58,38.5],[482.49,7776.42,39.0],[482.60,7776.10,39.5],[482.71,7775.89,40.0]]
T_6 = [[476.93,7782.10,40.0],[477.25,7782.63,40.4],[477.68,7782.85,40.8],[478.21,7782.96,41.2],[478.53,7782.53,41.6],[478.75,7782.10,42.0],[479.07,7781.88,42.4],[479.39,7782.10,42.8],[479.71,7782.42,43.2],[480.03,7782.74,43.6],[480.35,7782.96,44.0],[480.67,7783.17,44.4],[481.10,7783.38,44.8]]
T_7 = [[479.31,7784.03,36.0],[479.72,7784.61,36.5],[480.05,7784.86,37.0],[480.46,7784.94,37.5],[480.79,7784.90,38.0],[481.12,7784.73,38.5],[481.53,7784.61,39.0],[482.11,7784.78,39.5],[482.52,7784.79,40.0],[482.85,7784.78,40.5],[483.18,7784.72,41.0],[483.59,7784.69,41.5],[483.83,7784.61,42.0],[484.08,7784.36,42.5],[484.41,7784.03,43.0],[484.66,7783.71,43.5],[484.90,7783.46,44.0],[485.15,7783.05,44.5],[485.64,7782.88,45.0],[486.10,7782.68,45.5],[486.51,7782.31,46.0],[486.88,7781.81,46.5],[487.17,7781.40,47.0]]
T_8 = [[477.25,7774.55,45.0],[477.68,7774.55,45.3],[478.21,7774.60,45.6],[478.75,7774.57,45.9],[479.34,7774.55,46.2],[479.82,7774.50,46.5],[480.35,7774.44,46.8],[480.89,7774.50,47.1],[481.53,7774.60,47.4],[482.17,7774.76,47.7],[482.71,7774.92,48.0],[483.14,7775.03,48.3],[483.67,7775.14,48.6],[484.10,7775.14,48.9],[484.53,7775.14,49.2],[484.96,7775.19,49.5],[485.12,7774.82,49.8],[485.17,7774.50,50.1],[485.22,7774.12,50.4],[485.12,7773.75,50.7],[484.90,7773.53,51.0],[484.64,7773.64,51.3],[484.31,7773.73,51.6],[483.73,7773.73,51.9],[483.14,7773.80,52.2],[482.60,7773.96,52.5],[481.96,7774.12,52.8],[480.89,7774.18,53.1],[480.35,7774.12,53.4],[479.39,7773.85,53.7],[479.07,7773.58,54.0],[478.64,7773.53,54.3],[478.21,7773.74,54.6],[477.89,7774.07,54.9],[477.68,7774.39,55.2]]
T_9 = [[476.93,7774.71,55.5],[476.71,7775.03,55.8],[476.66,7775.57,56.1],[476.93,7776.00,56.4],[476.61,7776.21,56.7],[476.18,7776.42,57.0],[475.86,7776.75,57.3],[475.70,7777.17,57.6],[475.75,7777.60,57.9],[475.96,7777.92,58.2],[476.28,7778.03,58.5]]
T_10 = [[477.68,7783.54,58.0],[478.10,7783.70,58.5],[478.53,7783.70,59.0],[478.96,7783.81,59.5],[479.39,7783.92,60.0],[479.82,7784.13,60.5],[480.25,7784.19,61.0],[480.67,7784.30,61.5],[481.10,7784.35,62.0],[481.53,7784.45,62.5],[481.96,7784.51,63.0],[482.39,7784.51,63.5],[482.82,7784.45,64.0],[483.24,7784.29,64.5],[483.67,7784.08,65.0],[483.99,7783.87,65.5],[484.31,7783.65,66.0],[484.64,7783.33,66.5],[484.96,7783.12,67.0],[485.17,7782.90,67.5]]
T_11 = [[476.59,7781.28,60.0],[476.84,7781.44,60.4],[477.17,7781.50,60.8],[477.50,7781.52,61.2],[477.83,7781.50,61.6],[478.07,7781.28,62.0],[478.28,7780.99,62.4],[478.57,7780.74,62.8],[478.85,7780.54,63.2]]
T_12 = [[479.97,7782.14,64.0],[480.01,7781.73,64.5],[480.05,7781.32,65.0],[480.05,7780.91,65.5],[480.09,7780.41,66.0],[480.13,7780.00,66.5]]
T_13 = [[475.86,7781.24,68.0],[476.18,7781.67,68.5],[476.61,7782.10,69.0],[477.03,7782.42,69.5],[477.25,7782.74,70.0],[477.68,7783.01,70.5]]
T_14 = [[478.48,7783.62,76.0],[478.69,7784.26,76.5],[478.98,7784.78,77.0],[479.31,7785.27,77.5],[479.94,7785.64,78.0],[480.61,7785.74,78.5],[481.24,7785.39,79.0],[481.53,7785.06,79.5],[481.73,7784.86,80.0]]
T_15 = [[482.23,7785.35,82.0],[482.93,7785.21,82.5],[483.42,7784.86,83.0],[483.79,7784.71,83.5]]
T_16 = [[484.99,7783.79,84.0],[485.32,7783.66,84.4],[485.60,7783.62,84.8],[485.89,7783.46,85.2],[486.18,7783.09,85.6],[486.43,7782.76,86.0],[486.39,7782.26,86.4],[486.14,7781.89,86.8]]
T_17 = [[484.26,7783.70,80.0],[484.74,7784.03,80.4],[485.06,7783.81,80.8],[485.39,7783.60,81.2],[485.71,7783.33,81.6],[485.97,7783.17,82.0],[486.19,7783.06,82.4],[486.40,7782.85,82.8],[486.46,7782.53,83.2],[486.40,7782.26,83.6],[486.14,7781.78,84.0]]
T_18 = [[476.50,7776.75,86.0],[476.82,7776.53,86.4],[477.14,7776.32,86.8],[477.57,7776.21,87.2],[477.89,7776.10,87.6],[478.10,7775.78,88.0],[478.21,7775.57,88.4],[478.00,7775.25,88.8],[477.89,7775.09,89.2]]
T_19 = [[477.03,7777.82,78.0],[477.46,7777.60,78.5],[477.78,7777.49,79.0],[478.10,7777.28,79.5]]
T_20 = [[476.02,7782.53,88.0],[476.18,7782.10,88.4],[476.28,7781.67,88.8],[476.28,7781.24,89.2],[476.39,7780.81,89.6],[476.61,7780.39,90.0]]
T_21 = [[481.12,7782.39,98.0],[481.20,7781.89,98.3],[481.28,7781.32,98.6],[481.45,7780.95,98.9],[481.69,7780.66,99.2],[481.94,7780.50,99.5],[482.35,7780.58,99.8],[482.60,7780.87,100.1],[482.68,7781.24,100.4],[482.76,7781.65,100.7],[482.80,7781.98,101.0],[482.93,7782.39,101.3],[483.09,7782.80,101.6],[483.26,7783.17,101.9],[483.50,7783.54,102.2],[483.75,7783.83,102.5]]
T_22 = [[482.17,7779.42,100.0],[482.23,7778.78,100.3],[482.28,7778.35,100.6],[482.39,7777.82,100.9],[482.49,7777.28,101.2],[482.55,7776.64,101.5],[482.60,7776.10,101.8],[482.71,7775.57,102.1],[482.76,7775.14,102.4],[482.82,7774.66,102.7],[482.90,7774.18,103.0],[482.92,7773.75,103.3],[483.08,7773.43,103.6],[483.24,7773.16,103.9],[483.35,7773.11,104.2]]
T_23 = [[477.19,7775.14,104.0],[477.14,7774.60,104.3],[477.19,7773.96,104.6],[477.25,7773.64,104.9],[477.57,7773.32,105.2],[478.21,7773.16,105.5],[479.01,7773.43,105.8],[479.60,7774.01,106.1],[479.87,7774.71,106.4],[480.03,7775.25,106.7],[480.25,7775.84,107.0],[480.57,7776.37,107.3],[481.05,7776.75,107.6],[481.48,7777.07,107.9],[481.96,7777.33,108.2],[482.60,7777.55,108.5],[483.19,7777.76,108.8],[483.94,7777.92,109.1],[484.64,7778.03,109.4],[485.22,7777.98,109.7],[485.65,7777.82,110.0],[485.97,7777.76,110.3],[486.24,7777.60,110.6],[486.51,7777.39,110.9],[486.67,7776.96,111.2]]
T_24 = [[476.02,7781.03,110.0],[475.21,7780.81,110.3],[474.89,7780.12,110.6],[474.89,7779.58,110.9],[475.05,7779.21,111.2],[475.32,7778.89,111.5],[475.54,7778.62,111.8],[475.75,7778.35,112.1],[476.07,7778.46,112.4],[476.39,7778.51,112.7],[476.82,7778.59,113.0],[477.19,7778.62,113.3],[477.46,7778.67,113.6],[477.73,7778.67,113.9]]
T_25 = [[475.93,7780.99,113.0],[476.22,7780.91,113.3],[476.84,7780.78,113.6],[477.66,7780.51,113.9],[478.32,7780.39,114.2],[478.90,7780.43,114.5],[479.27,7780.66,114.8],[479.62,7781.01,115.1],[479.80,7781.44,115.4],[479.91,7781.94,115.7],[480.06,7782.47,116.0]]
T_26 = [[476.18,7782.10,115.0],[476.55,7782.64,115.3],[477.00,7782.92,115.6],[477.37,7783.02,115.9],[477.76,7783.08,116.2],[478.24,7783.13,116.5],[478.69,7783.09,116.8],[478.98,7783.05,117.1],[479.31,7783.03,117.4],[479.64,7782.92,117.7],[479.97,7782.90,118.0],[480.36,7783.06,118.3],[480.58,7783.66,118.6],[480.87,7784.22,118.9],[481.35,7784.61,119.2],[481.78,7784.82,119.5],[482.23,7784.78,119.7],[482.68,7784.65,119.9],[482.89,7784.41,120.0]]
T_27 = [[484.08,7783.43,112.0],[484.12,7782.88,112.3],[484.25,7782.68,112.6],[484.00,7782.64,112.9],[483.73,7782.39,113.2],[483.42,7782.16,113.5],[483.01,7781.89,113.8],[482.68,7781.73,114.1],[482.39,7781.65,114.4],[482.09,7781.55,114.7],[481.83,7781.61,115.0],[481.69,7781.83,115.3],[481.71,7782.14,115.6],[481.96,7782.39,115.9],[482.23,7782.68,116.2],[482.38,7783.07,116.5],[482.48,7783.38,116.8],[482.68,7783.66,117.1],[482.68,7783.89,117.4],[482.85,7784.16,117.7]]
T_28 = [[486.78,7781.35,50.0],[486.88,7780.81,50.4],[486.94,7780.28,50.8],[486.94,7779.74,51.2],[486.99,7779.10,51.6],[486.99,7778.46,52.0],[486.94,7777.82,52.4],[486.88,7777.28,52.8],[486.78,7776.85,53.2]]
T_29 = [[486.56,7777.82,32.0],[486.24,7777.60,32.4],[485.92,7777.39,32.8],[485.49,7777.07,33.2],[485.17,7776.69,33.6],[484.96,7776.32,34.0],[484.74,7776.00,34.4],[484.58,7775.67,34.8],[484.64,7775.35,35.2]]
T_30 = [[476.96,7782.88,34.0],[477.33,7783.09,34.3],[477.66,7783.29,34.6],[477.99,7783.54,34.9],[478.32,7783.62,35.2],[478.69,7783.62,35.5],[478.98,7783.54,35.8],[479.31,7783.54,36.1],[479.64,7783.62,36.4],[479.97,7783.83,36.7],[480.34,7783.95,37.0],[480.71,7784.08,37.3],[481.12,7784.24,37.6],[481.45,7784.36,37.9]]
T_31 = [[477.00,7782.39,53.0],[477.41,7782.55,53.3],[477.83,7782.64,53.6],[478.24,7782.68,53.9],[478.57,7782.72,54.2],[478.90,7782.64,54.5],[479.22,7782.55,54.8],[479.55,7782.64,55.1],[479.88,7782.72,55.4],[480.21,7782.76,55.7],[480.62,7782.80,56.0],[481.04,7782.88,56.3],[481.45,7783.05,56.6],[481.78,7783.21,56.9],[482.11,7783.38,57.2]]
T_32 = [[479.72,7784.36,71.0],[480.13,7784.61,71.3],[480.54,7784.78,71.6],[480.95,7784.86,71.9],[481.45,7784.78,72.2],[481.86,7784.61,72.5],[482.27,7784.45,72.8],[482.68,7784.36,73.1],[483.09,7784.28,73.4],[483.50,7784.12,73.7],[483.83,7783.95,74.0],[484.16,7783.79,74.3],[484.49,7783.54,74.6],[484.82,7783.29,74.9],[485.07,7782.96,75.2]]
T_33 = [[476.76,7781.40,39.0],[477.08,7781.24,39.3],[477.33,7781.07,39.6],[477.66,7780.91,39.9],[477.99,7780.74,40.2],[478.32,7780.58,40.5],[478.65,7780.41,40.8],[478.98,7780.25,41.1],[479.31,7780.08,41.4]]
T_34 = [[479.80,7784.94,85.0],[479.76,7784.36,85.4],[479.78,7783.87,85.8],[479.80,7783.38,86.2],[479.84,7782.88,86.6]]
T_35 = [[476.39,7776.53,88.0],[476.61,7776.10,88.3],[477.03,7775.89,88.6],[477.46,7775.78,88.9],[477.89,7775.67,89.2],[478.16,7775.46,89.5],[478.32,7775.67,89.8],[478.53,7775.89,90.1],[478.75,7776.10,90.4],[478.91,7776.53,90.7],[478.85,7776.96,91.0]]
TORTUOUS = [T_1, T_2, T_3, T_4, T_5, T_6, T_7, T_8, T_9, T_10, T_11, T_12, T_13, T_14, T_15, T_16, T_17, T_18,
            T_19, T_20, T_21, T_22, T_23, T_24, T_25, T_26, T_27, T_28, T_29, T_30, T_31, T_32, T_33, T_34, T_35]

# ---------------- figure ----------------
W, H = 3200, 1280
FONT = "DejaVu Sans"
X_DOMAINS = [[201.8 / W, 1092.8 / W], [1119.3 / W, 2010.3 / W], [2035.4 / W, 2926.4 / W]]
Y_DOMAIN = [1 - 1064.5 / H, 1 - 173.5 / H]

fig = go.Figure()
panels = [("x", "y", PERSISTENT), ("x2", "y2", STANDARD), ("x3", "y3", TORTUOUS)]
NB = 48
for xa, ya, segs in panels:
    bins = [[[], []] for _ in range(NB)]
    for seg in segs:
        for a, b in zip(seg[:-1], seg[1:]):
            k = min(NB - 1, int(a[2] / T_MAX * NB))
            bins[k][0] += [a[0], b[0], None]
            bins[k][1] += [a[1], b[1], None]
    for k, (bx, by) in enumerate(bins):
        if not bx:
            continue
        col = sample_colorscale("Viridis", [(k + 0.5) / NB])[0]
        fig.add_trace(go.Scatter(x=bx, y=by, mode="lines", line=dict(color=col, width=1.2),
                                 xaxis=xa, yaxis=ya, hoverinfo="skip", showlegend=False))
    xs = [p[0] for s in segs for p in s]
    ys = [p[1] for s in segs for p in s]
    ts = [p[2] for s in segs for p in s]
    fig.add_trace(go.Scatter(x=xs, y=ys, mode="markers",
                             marker=dict(size=7.5, color=ts, coloraxis="coloraxis", line=dict(width=0)),
                             xaxis=xa, yaxis=ya, showlegend=False))

# arena centre cross (Standard panel)
fig.add_trace(go.Scatter(x=[ARENA_CENTER[0]], y=[ARENA_CENTER[1]], mode="markers",
                         marker=dict(symbol="cross-thin", size=62, color="red", line=dict(color="red", width=3)),
                         xaxis="x2", yaxis="y2", showlegend=False))

shapes = []
for i, (xa, ya, _) in enumerate(panels):
    for r, fc in [(ARENA_OUTER_R, "#bebebe"), (ARENA_INNER_R, "white")]:
        shapes.append(dict(type="circle", xref=xa, yref=ya, layer="between",
                           x0=ARENA_CENTER[0] - r, x1=ARENA_CENTER[0] + r,
                           y0=ARENA_CENTER[1] - r, y1=ARENA_CENTER[1] + r,
                           fillcolor=fc, line=dict(color="#555555", width=1.8)))

# colourbar geometry (pixels)
CB_LEFT, CB_RIGHT, CB_TOP, CB_BOTTOM = 3000, 3077, 462.7, 845.0
for v in CB_TICKS:
    py = CB_BOTTOM - v / T_MAX * (CB_BOTTOM - CB_TOP)
    for x0, x1 in [(CB_LEFT, CB_LEFT + 15), (CB_RIGHT - 15, CB_RIGHT)]:
        shapes.append(dict(type="line", xref="paper", yref="paper", layer="above",
                           x0=x0 / W, x1=x1 / W, y0=1 - py / H, y1=1 - py / H,
                           line=dict(color="white", width=2)))

annotations = []
for i, name in enumerate(FACETS):
    cx = (X_DOMAINS[i][0] + X_DOMAINS[i][1]) / 2
    annotations.append(dict(text=name, x=cx, y=1 - 137.5 / H, xref="paper", yref="paper",
                            showarrow=False, xanchor="center", yanchor="middle",
                            font=dict(family=FONT, size=37, color="#1a1a1a")))
annotations.append(dict(text="x", x=(X_DOMAINS[1][0] + X_DOMAINS[1][1]) / 2, y=1 - 1152 / H,
                        xref="paper", yref="paper", showarrow=False, xanchor="center", yanchor="middle",
                        font=dict(family=FONT, size=46, color="black")))
annotations.append(dict(text="y", x=51 / W, y=1 - 619 / H, xref="paper", yref="paper", textangle=-90,
                        showarrow=False, xanchor="center", yanchor="middle",
                        font=dict(family=FONT, size=46, color="black")))
annotations.append(dict(text="Time", x=CB_LEFT / W, y=1 - 414 / H, xref="paper", yref="paper",
                        showarrow=False, xanchor="left", yanchor="middle",
                        font=dict(family=FONT, size=46, color="black")))

axis_common = dict(showgrid=True, gridcolor="#ebebeb", gridwidth=4.5, zeroline=False, showline=False,
                   ticks="outside", tickcolor="rgba(0,0,0,0)",
                   tickfont=dict(family=FONT, size=37, color="#4d4d4d"), fixedrange=True)

layout = dict(
    width=W, height=H, margin=dict(l=0, r=0, t=0, b=0), autosize=False,
    template="none", paper_bgcolor="white", plot_bgcolor="white",
    font=dict(family=FONT), showlegend=False,
    shapes=shapes, annotations=annotations,
    coloraxis=dict(colorscale="Viridis", cmin=0, cmax=T_MAX,
                   colorbar=dict(x=CB_LEFT / W, xanchor="left", xpad=0,
                                 y=1 - (CB_TOP + CB_BOTTOM) / 2 / H, yanchor="middle", ypad=0,
                                 len=CB_BOTTOM - CB_TOP, lenmode="pixels",
                                 thickness=CB_RIGHT - CB_LEFT, thicknessmode="pixels",
                                 outlinewidth=0, tickvals=CB_TICKS, ticks="outside", ticklen=22,
                                 tickcolor="rgba(0,0,0,0)",
                                 tickfont=dict(family=FONT, size=37, color="black"))),
)
for i, (xa, ya, _) in enumerate(panels):
    xkey = "xaxis" if i == 0 else f"xaxis{i + 1}"
    ykey = "yaxis" if i == 0 else f"yaxis{i + 1}"
    layout[xkey] = dict(axis_common, domain=X_DOMAINS[i], range=X_RANGE, tickvals=X_TICKS,
                        ticklen=20, anchor=ya)
    layout[ykey] = dict(axis_common, domain=Y_DOMAIN, range=Y_RANGE, tickvals=Y_TICKS,
                        ticklen=22, anchor=xa, showticklabels=(i == 0))

fig.update_layout(**layout)
fig.write_html("out.html")
